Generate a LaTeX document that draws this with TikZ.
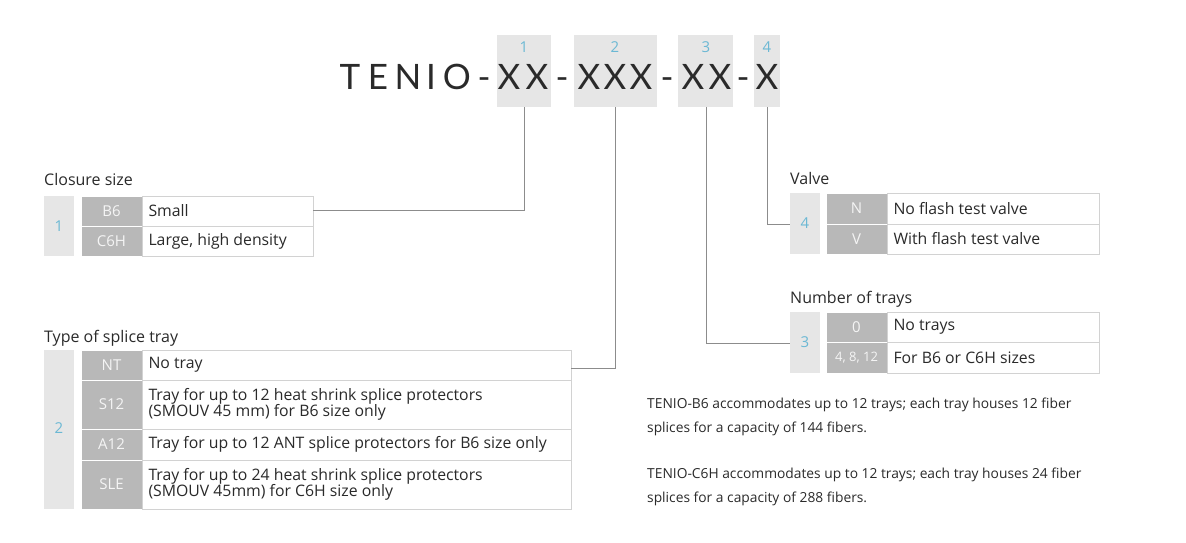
\documentclass[tikz,border=0pt]{standalone}
\usepackage{fontspec}
\setmainfont{Open Sans}
\newfontfamily\latof{Lato}
\definecolor{numbg}{HTML}{E6E6E6}
\definecolor{codebg}{HTML}{B8B8B8}
\definecolor{bord}{HTML}{D2D2D2}
\definecolor{blu}{HTML}{6BB8D4}
\definecolor{txt}{HTML}{2A2A2A}
\definecolor{ln}{HTML}{8C8C8C}
\tikzset{
 numbox/.style={fill=numbg,draw=none},
 codecell/.style={fill=codebg,draw=white,line width=1pt},
 desccell/.style={fill=white,draw=bord,line width=0.8pt},
 codetxt/.style={text=white!92!gray,font=\fontsize{15}{16}\selectfont,anchor=center},
 desctxt/.style={text=txt,font=\fontsize{15.8}{16.5}\selectfont,anchor=west,align=left},
 title/.style={text=txt,font=\fontsize{16}{18}\selectfont,anchor=base west,inner sep=0},
 numtxt/.style={text=blu,font=\fontsize{15}{18}\selectfont},
 big/.style={text=txt,font=\latof\fontsize{35}{36}\selectfont,anchor=base,inner sep=0},
 conn/.style={draw=ln,line width=0.9pt},
 para/.style={text=txt,font=\fontsize{13.8}{24}\selectfont,anchor=north west,align=left,inner sep=0}
}
\begin{document}
\begin{tikzpicture}[x=1pt,y=-1pt]
\useasboundingbox (0,0) rectangle (1186,543);
% code boxes
\fill[numbg] (497,35) rectangle (551,107);
\fill[numbg] (574,35) rectangle (657,107);
\fill[numbg] (678,35) rectangle (733,107);
\fill[numbg] (754,35) rectangle (780,107);
\node[numtxt] (n1) at (524,47) {1};
\node[numtxt] (n2) at (615,47) {2};
\node[numtxt] (n3) at (706,47) {3};
\node[numtxt] (n4) at (767,47) {4};
\foreach \c/\x [count=\i] in {T/350,E/378,N/408,I/431,O/457,-/484,X/509,X/537,-/562,X/589,X/615,X/641,-/667,X/693,X/720,-/743,X/767}
  \node[big] (ch\i) at (\x,89) {\c};
\coordinate (b1) at (524,107);
\coordinate (b2) at (615,107);
\coordinate (b3) at (706,107);
\coordinate (b4) at (767,107);
% Closure size
\node[title] (t1) at (44,185) {Closure size};
\fill[numbg] (44,196) rectangle (74,256);
\node[numtxt] (k1) at (59,226) {1};
\draw[codecell] (81,196) rectangle (142,226);
\draw[codecell] (81,226) rectangle (142,256);
\node[codetxt] (c11) at (111.5,211) {B6};
\node[codetxt] (c12) at (111.5,241) {C6H};
\draw[desccell] (142,196) rectangle (313,226);
\draw[desccell] (142,226) rectangle (313,256);
\node[desctxt] (e11) at (145,211) {Small};
\node[desctxt] (e12) at (145,241) {Large, high density};
\coordinate (r1) at (313,210);
% Type of splice tray
\node[title] (t2) at (44,342) {Type of splice tray};
\fill[numbg] (44,350) rectangle (74,509);
\node[numtxt] (k2) at (59,428) {2};
\foreach \a/\b/\c/\d in {350/380/NT/No tray,380/429/S12/{Tray for up to 12 heat shrink splice protectors\\(SMOUV 45 mm) for B6 size only},429/460/A12/Tray for up to 12 ANT splice protectors for B6 size only,460/509/SLE/{Tray for up to 24 heat shrink splice protectors\\(SMOUV 45mm) for C6H size only}}{
  \draw[codecell] (81,\a) rectangle (142,\b);
  \draw[desccell] (142,\a) rectangle (571,\b);
  \node[codetxt] at (111.5,{(\a+\b)/2}) {\c};
  \node[desctxt] at (145,{(\a+\b)/2}) {\d};
}
\coordinate (r2) at (571,368);
% Valve
\node[title] (t4) at (790,184) {Valve};
\fill[numbg] (790,193) rectangle (820,254);
\node[numtxt] (k4) at (805,223) {4};
\draw[codecell] (826,193) rectangle (887,224);
\draw[codecell] (826,224) rectangle (887,254);
\draw[desccell] (887,193) rectangle (1099,224);
\draw[desccell] (887,224) rectangle (1099,254);
\node[codetxt] at (856.5,208.5) {N};
\node[codetxt] at (856.5,239) {V};
\node[desctxt] at (890,208.5) {No flash test valve};
\node[desctxt] at (890,239) {With flash test valve};
\coordinate (l4) at (790,224);
% Number of trays
\node[title] (t3) at (790,303) {Number of trays};
\fill[numbg] (790,312) rectangle (820,373);
\node[numtxt] (k3) at (805,342) {3};
\draw[codecell] (826,312) rectangle (887,342);
\draw[codecell] (826,342) rectangle (887,373);
\draw[desccell] (887,312) rectangle (1099,342);
\draw[desccell] (887,342) rectangle (1099,373);
\node[codetxt] at (856.5,327) {0};
\node[codetxt,font=\fontsize{13}{14}\selectfont] at (856.5,357.5) {4, 8, 12};
\node[desctxt] at (890,327) {No trays};
\node[desctxt] at (890,357.5) {For B6 or C6H sizes};
\coordinate (l3) at (790,343);
% connectors
\draw[conn] (b1) -- (524,210) -- (r1);
\draw[conn] (b2) -- (615,368) -- (r2);
\draw[conn] (b3) -- (706,343) -- (l3);
\draw[conn] (b4) -- (767,224) -- (l4);
% paragraphs
\node[para] (p1) at (647,398) {TENIO-B6 accommodates up to 12 trays; each tray houses 12 fiber\\splices for a capacity of 144 fibers.};
\node[para] (p2) at (647,468) {TENIO-C6H accommodates up to 12 trays; each tray houses 24 fiber\\splices for a capacity of 288 fibers.};
\end{tikzpicture}
\end{document}
